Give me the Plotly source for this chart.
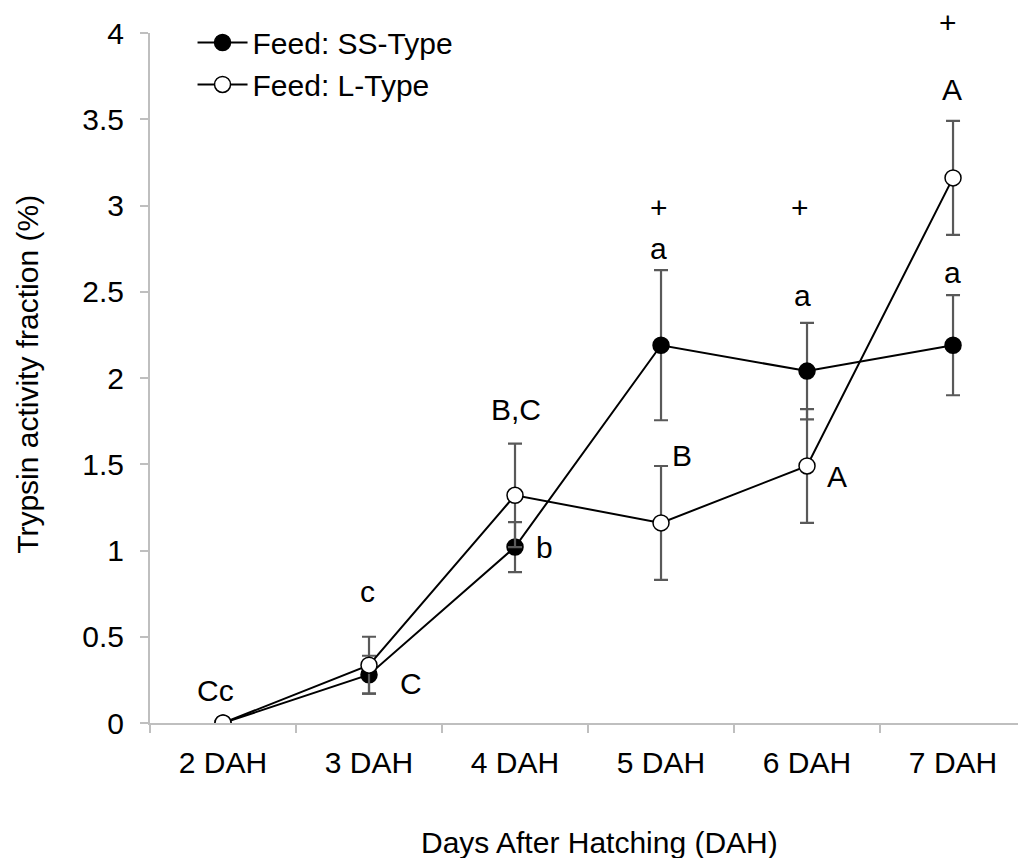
import plotly.graph_objects as go

days = ["2 DAH", "3 DAH", "4 DAH", "5 DAH", "6 DAH", "7 DAH"]
ss_values = [0.0, 0.28, 1.02, 2.19, 2.04, 2.19]
ss_errors = [0.0, 0.11, 0.145, 0.435, 0.28, 0.29]
l_values = [0.0, 0.335, 1.32, 1.16, 1.49, 3.16]
l_errors = [0.0, 0.165, 0.30, 0.33, 0.33, 0.33]

# significance labels: (category, y, text, xshift)
labels = [
    ("2 DAH", 0.19, "Cc", -8),
    ("3 DAH", 0.76, "c", -2),
    ("3 DAH", 0.23, "C", 42),
    ("4 DAH", 1.82, "B,C", 1),
    ("4 DAH", 1.02, "b", 29),
    ("5 DAH", 2.99, "+", -2),
    ("5 DAH", 2.75, "a", -3),
    ("5 DAH", 1.55, "B", 21),
    ("6 DAH", 2.99, "+", -7),
    ("6 DAH", 2.48, "a", -5),
    ("6 DAH", 1.43, "A", 30),
    ("7 DAH", 4.06, "+", -5),
    ("7 DAH", 3.67, "A", -1),
    ("7 DAH", 2.61, "a", -1),
]

Y_MAX = 4.0
FONT = "Liberation Sans, Arial, sans-serif"
FS = 30
AXIS_COLOR = "#bfbfbf"
ERR_COLOR = "#595959"

fig = go.Figure()
fig.add_trace(go.Scatter(
    x=days, y=ss_values, name="Feed: SS-Type", mode="lines+markers",
    line=dict(color="black", width=2),
    marker=dict(color="black", size=16, line=dict(color="black", width=1.5)),
    error_y=dict(type="data", array=ss_errors, visible=True, color=ERR_COLOR, thickness=2.2, width=7),
))
fig.add_trace(go.Scatter(
    x=days, y=l_values, name="Feed: L-Type", mode="lines+markers",
    line=dict(color="black", width=2),
    marker=dict(color="white", size=16, line=dict(color="black", width=1.5)),
    error_y=dict(type="data", array=l_errors, visible=True, color=ERR_COLOR, thickness=2.2, width=7),
))

for cat, yv, txt, xs in labels:
    # y in paper fraction so labels above the axis range still show
    fig.add_annotation(x=cat, y=yv / Y_MAX, text=txt, xref="x", yref="paper", showarrow=False,
                       xanchor="center", yanchor="middle",
                       xshift=xs, font=dict(family=FONT, size=FS, color="black"))

fig.add_annotation(x=0.518, y=-0.1725, xref="paper", yref="paper", text="Days After Hatching (DAH)",
                   xanchor="center", yanchor="middle",
                   showarrow=False, font=dict(family=FONT, size=FS, color="black"))
fig.add_annotation(x=-0.1406, y=0.506, xref="paper", yref="paper", text="Trypsin activity fraction (%)",
                   xanchor="center", yanchor="middle",
                   textangle=-90, showarrow=False, font=dict(family=FONT, size=FS, color="black"))

fig.update_layout(
    width=1018, height=858,
    margin=dict(l=150, r=0, t=33, b=135),
    paper_bgcolor="white", plot_bgcolor="white",
    font=dict(family=FONT, size=FS, color="black"),
    showlegend=True,
    legend=dict(x=0.049, y=1.024, xanchor="left", yanchor="top", bgcolor="rgba(0,0,0,0)",
                font=dict(family=FONT, size=FS, color="black"), tracegroupgap=0, itemwidth=50),
    xaxis=dict(type="category", categoryorder="array", categoryarray=days,
               range=[-0.5, 5.445], showgrid=False, zeroline=False,
               showline=True, linecolor=AXIS_COLOR, linewidth=2,
               ticks="outside", tickson="boundaries", ticklen=8, tickcolor=AXIS_COLOR, tickwidth=2,
               ticklabelstandoff=12,
               tickfont=dict(family=FONT, size=FS, color="black")),
    yaxis=dict(range=[0, Y_MAX], dtick=0.5, showgrid=False, zeroline=False,
               showline=True, linecolor=AXIS_COLOR, linewidth=2,
               ticks="outside", ticklen=8, tickcolor=AXIS_COLOR, tickwidth=2,
               ticklabelstandoff=10,
               tickfont=dict(family=FONT, size=FS, color="black")),
)

fig.write_html("out.html")
